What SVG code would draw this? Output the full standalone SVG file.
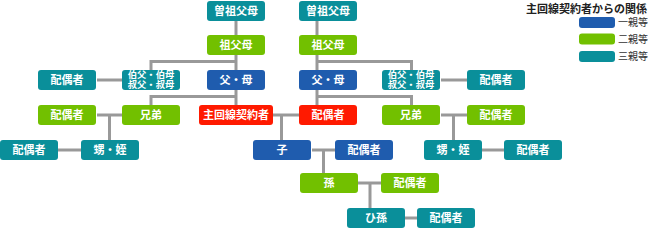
<svg xmlns="http://www.w3.org/2000/svg" width="648" height="228" viewBox="0 0 648 228">
<style>
.t{fill:#0a8f9a}.g{fill:#72c000}.b{fill:#1f5cae}.r{fill:#ff1a00}
text{font-family:"Noto Sans CJK JP","Noto Sans",sans-serif}
.n text{fill:#fff;font-size:11px;font-weight:bold;text-anchor:middle}
.n text.s{font-size:9.3px}
.c path{fill:none;stroke:#999;stroke-width:3}
.lg{fill:#333;font-size:10px}
</style>
<g class="c" id="connectors">
<path d="M236 21V105M236 61.5H151V70M236 96.5H151V105M97 80H122"/>
<path d="M317 21V105M317 61.5H411.5V70M317 96.5H411.5V105M441 80H467"/>
<path d="M97 115H122M109.5 115V140M58 150H81"/>
<path d="M273 115H299M281.5 115V140"/>
<path d="M441 115H467M453.5 115V140M482 150H504"/>
<path d="M312 150H335M323.5 150V173"/>
<path d="M358 183H381M370 183V208"/>
<path d="M405 218H417"/>
</g>
<g class="n" id="sosofubo-l"><rect class="t" x="207" y="1" width="58" height="20" rx="3"/><text x="236" y="15">曽祖父母</text></g>
<g class="n" id="sosofubo-r"><rect class="t" x="299" y="1" width="58" height="20" rx="3"/><text x="328" y="15">曽祖父母</text></g>
<g class="n" id="sofubo-l"><rect class="g" x="207" y="35" width="58" height="20" rx="3"/><text x="236" y="49">祖父母</text></g>
<g class="n" id="sofubo-r"><rect class="g" x="299" y="35" width="58" height="20" rx="3"/><text x="328" y="49">祖父母</text></g>
<g class="n" id="haigu-oji-l"><rect class="t" x="38" y="70" width="58" height="20" rx="3"/><text x="67" y="84">配偶者</text></g>
<g class="n" id="oji-l"><rect class="t" x="122" y="70" width="58" height="20" rx="3"/><text class="s"><tspan x="151" y="78.3">伯父・伯母</tspan><tspan x="151" y="88.3">叔父・叔母</tspan></text></g>
<g class="n" id="fubo-l"><rect class="b" x="207" y="70" width="58" height="20" rx="3"/><text x="236" y="84">父・母</text></g>
<g class="n" id="fubo-r"><rect class="b" x="299" y="70" width="58" height="20" rx="3"/><text x="328" y="84">父・母</text></g>
<g class="n" id="oji-r"><rect class="t" x="382" y="70" width="58" height="20" rx="3"/><text class="s"><tspan x="411" y="78.3">伯父・伯母</tspan><tspan x="411" y="88.3">叔父・叔母</tspan></text></g>
<g class="n" id="haigu-oji-r"><rect class="t" x="467" y="70" width="58" height="20" rx="3"/><text x="496" y="84">配偶者</text></g>
<g class="n" id="haigu-kyodai-l"><rect class="g" x="38" y="105" width="58" height="20" rx="3"/><text x="67" y="119">配偶者</text></g>
<g class="n" id="kyodai-l"><rect class="g" x="122" y="105" width="58" height="20" rx="3"/><text x="151" y="119">兄弟</text></g>
<g class="n" id="keiyakusha"><rect class="r" x="199" y="105" width="74" height="20" rx="3"/><text x="236" y="119">主回線契約者</text></g>
<g class="n" id="haigu-keiyakusha"><rect class="r" x="299" y="105" width="58" height="20" rx="3"/><text x="328" y="119">配偶者</text></g>
<g class="n" id="kyodai-r"><rect class="g" x="382" y="105" width="58" height="20" rx="3"/><text x="411" y="119">兄弟</text></g>
<g class="n" id="haigu-kyodai-r"><rect class="g" x="467" y="105" width="58" height="20" rx="3"/><text x="496" y="119">配偶者</text></g>
<g class="n" id="haigu-oi-l"><rect class="t" x="0" y="140" width="58" height="20" rx="3"/><text x="29" y="154">配偶者</text></g>
<g class="n" id="oi-l"><rect class="t" x="81" y="140" width="58" height="20" rx="3"/><text x="110" y="154">甥・姪</text></g>
<g class="n" id="ko"><rect class="b" x="253" y="140" width="58" height="20" rx="3"/><text x="282" y="154">子</text></g>
<g class="n" id="haigu-ko"><rect class="b" x="335" y="140" width="58" height="20" rx="3"/><text x="364" y="154">配偶者</text></g>
<g class="n" id="oi-r"><rect class="t" x="424" y="140" width="58" height="20" rx="3"/><text x="453" y="154">甥・姪</text></g>
<g class="n" id="haigu-oi-r"><rect class="t" x="504" y="140" width="58" height="20" rx="3"/><text x="533" y="154">配偶者</text></g>
<g class="n" id="mago"><rect class="g" x="300" y="173" width="58" height="20" rx="3"/><text x="329" y="187">孫</text></g>
<g class="n" id="haigu-mago"><rect class="g" x="381" y="173" width="58" height="20" rx="3"/><text x="410" y="187">配偶者</text></g>
<g class="n" id="himago"><rect class="t" x="347" y="208" width="58" height="20" rx="3"/><text x="376" y="222">ひ孫</text></g>
<g class="n" id="haigu-himago"><rect class="t" x="417" y="208" width="58" height="20" rx="3"/><text x="446" y="222">配偶者</text></g>
<g id="legend">
<text x="647" y="12.8" text-anchor="end" style="font-size:11px;font-weight:bold;fill:#222">主回線契約者からの関係</text>
<rect class="b" x="579" y="17" width="36" height="11" rx="3"/><text class="lg" x="618" y="26">一親等</text>
<rect class="g" x="579" y="33.5" width="36" height="11" rx="3"/><text class="lg" x="618" y="42.5">二親等</text>
<rect class="t" x="579" y="51" width="36" height="11" rx="3"/><text class="lg" x="618" y="60">三親等</text>
</g>
</svg>
